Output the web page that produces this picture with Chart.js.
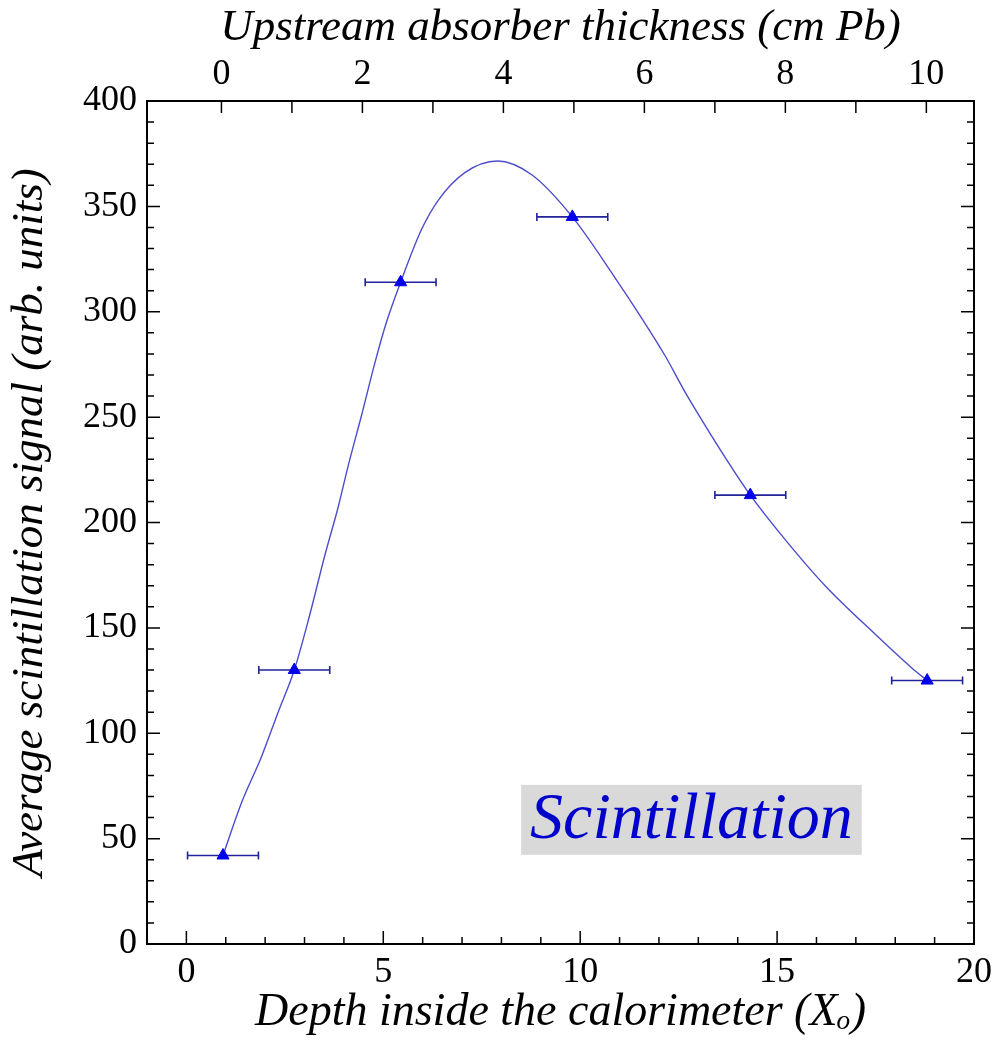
<!DOCTYPE html>
<html>
<head>
<meta charset="utf-8">
<script src="https://cdn.jsdelivr.net/npm/chart.js@4"></script>
<style>
  body { margin: 0; background: #fff; }
  #wrap { width: 995px; height: 1043px; position: relative; }
</style>
</head>
<body>
<div id="wrap"><canvas id="chart"></canvas></div>
<script>
// measured points (depth in X0) with horizontal error half-widths
let depth = [0.93, 2.74, 5.44, 9.80, 14.32, 18.81];
let signal = [42, 130, 314, 345, 213, 125];
let depthErr = [0.9, 0.9, 0.9, 0.9, 0.9, 0.9];

// smooth curve
let curveX = [0.93, 1.40, 1.91, 2.33, 2.74, 3.13, 3.51, 3.85, 4.11, 4.45, 4.79, 5.08, 5.44, 5.97, 6.40, 7.07, 7.90, 8.77, 9.80, 10.89, 11.56, 12.16, 12.66, 13.34, 13.85, 14.32, 15.20, 16.22, 17.49, 18.42, 18.81];
let curveY = [42, 67, 89, 110, 130, 156, 184, 207, 227, 251, 276, 295, 314, 339, 353, 366, 371.5, 365, 345, 316, 297, 279, 262, 241, 226, 213, 192, 170, 147, 131, 125];

let bottomTicks = [0, 5, 10, 15, 20];
let topTicks = [0, 2, 4, 6, 8, 10];
let leftTicks = [0, 50, 100, 150, 200, 250, 300, 350, 400];

const serif = "'Liberation Serif', 'Times New Roman', serif";

const pts = depth.map((x, i) => ({ x: x, y: signal[i] }));
const curve = curveX.map((x, i) => ({ x: x, y: curveY[i] }));

function range(a, b, step) {
  let out = [];
  for (let v = a; v <= b + 1e-9; v += step) out.push(v);
  return out;
}

const framePlugin = {
  id: 'frame',
  afterDatasetDraw(chart, args) {
    if (args.index !== 1) return;
    // error bars, drawn after the curve and under the triangles
    const ctx = chart.ctx, xs = chart.scales.x, ys = chart.scales.y;
    ctx.save();
    ctx.strokeStyle = '#22229a';
    ctx.lineWidth = 1.6;
    depth.forEach((x, i) => {
      const x0 = xs.getPixelForValue(x - depthErr[i]);
      const x1 = xs.getPixelForValue(x + depthErr[i]);
      const y = ys.getPixelForValue(signal[i]);
      ctx.beginPath();
      ctx.moveTo(x0, y); ctx.lineTo(x1, y);
      ctx.moveTo(x0, y - 4); ctx.lineTo(x0, y + 4);
      ctx.moveTo(x1, y - 4); ctx.lineTo(x1, y + 4);
      ctx.stroke();
    });
    ctx.restore();
  },
  afterDraw(chart) {
    const ctx = chart.ctx, a = chart.chartArea;
    const xs = chart.scales.x, x2 = chart.scales.x2, ys = chart.scales.y;
    ctx.save();
    ctx.strokeStyle = '#000';
    ctx.lineWidth = 1.5;
    ctx.beginPath();
    // bottom ticks
    range(0, 20, 1).forEach(v => {
      const p = xs.getPixelForValue(v);
      const len = v % 5 === 0 ? 13 : 7;
      ctx.moveTo(p, a.bottom); ctx.lineTo(p, a.bottom - len);
    });
    // top ticks
    range(0, 10, 1).forEach(v => {
      const p = x2.getPixelForValue(v);
      ctx.moveTo(p, a.top); ctx.lineTo(p, a.top + 12);
    });
    // left and right ticks
    range(0, 400, 10).forEach(v => {
      const p = ys.getPixelForValue(v);
      const len = v % 50 === 0 ? 13 : 7;
      ctx.moveTo(a.left, p); ctx.lineTo(a.left + len, p);
      ctx.moveTo(a.right, p); ctx.lineTo(a.right - len, p);
    });
    ctx.stroke();
    ctx.lineWidth = 2;
    ctx.strokeRect(a.left, a.top, a.right - a.left, a.bottom - a.top);

    // label box
    const bx0 = xs.getPixelForValue(8.5), bx1 = xs.getPixelForValue(17.15);
    const by0 = ys.getPixelForValue(75.5), by1 = ys.getPixelForValue(42.3);
    ctx.fillStyle = '#d9d9d9';
    ctx.fillRect(bx0, by0, bx1 - bx0, by1 - by0);
    ctx.fillStyle = '#0000cc';
    ctx.font = 'italic 66px ' + serif;
    ctx.textAlign = 'center';
    ctx.textBaseline = 'middle';
    ctx.fillText('Scintillation', (bx0 + bx1) / 2, (by0 + by1) / 2 + 1);
    ctx.restore();
  }
};

const noSidePad = s => { s.paddingLeft = 0; s.paddingRight = 0; };

new Chart(document.getElementById('chart'), {
  type: 'scatter',
  data: {
    datasets: [{
      data: pts,
      pointStyle: 'triangle',
      pointRadius: 7,
      backgroundColor: '#0000ee',
      borderColor: '#0000ee',
      borderWidth: 1,
      showLine: false
    }, {
      data: curve,
      showLine: true,
      pointRadius: 0,
      borderColor: '#4d4dcc',
      borderWidth: 1.4,
      cubicInterpolationMode: 'monotone',
      fill: false
    }]
  },
  options: {
    responsive: true,
    maintainAspectRatio: false,
    animation: false,
    layout: { padding: { right: 21 } },
    plugins: { legend: { display: false }, tooltip: { enabled: false } },
    scales: {
      x: {
        type: 'linear',
        position: 'bottom',
        min: -1,
        max: 20,
        afterBuildTicks: s => { s.ticks = bottomTicks.map(v => ({ value: v })); },
        afterFit: s => { s.height = 99; noSidePad(s); },
        grid: { display: false, drawTicks: false },
        border: { display: false },
        ticks: { color: '#000', padding: 7, font: { family: serif, size: 36 } },
        title: {
          display: true,
          text: 'Depth inside the calorimeter (Xₒ)',
          color: '#000',
          padding: { top: 0, bottom: 2 },
          font: { family: serif, size: 46, style: 'italic' }
        }
      },
      x2: {
        type: 'linear',
        position: 'top',
        min: -1.056,
        max: 10.676,
        afterBuildTicks: s => { s.ticks = topTicks.map(v => ({ value: v })); },
        afterFit: s => { s.height = 101; noSidePad(s); },
        grid: { display: false, drawTicks: false },
        border: { display: false },
        ticks: { color: '#000', padding: 5, font: { family: serif, size: 36 } },
        title: {
          display: true,
          text: 'Upstream absorber thickness (cm Pb)',
          color: '#000',
          padding: { top: 1, bottom: 0 },
          font: { family: serif, size: 45, style: 'italic' }
        }
      },
      y: {
        type: 'linear',
        position: 'left',
        min: 0,
        max: 400,
        afterBuildTicks: s => { s.ticks = leftTicks.map(v => ({ value: v })); },
        afterFit: s => { s.width = 147; s.paddingTop = 0; s.paddingBottom = 0; },
        grid: { display: false, drawTicks: false },
        border: { display: false },
        ticks: { color: '#000', padding: 10, font: { family: serif, size: 36 } },
        title: {
          display: true,
          text: 'Average scintillation signal (arb. units)',
          color: '#000',
          padding: { top: 3, bottom: 0 },
          font: { family: serif, size: 45, style: 'italic' }
        }
      }
    }
  },
  plugins: [framePlugin]
});
</script>
</body>
</html>
